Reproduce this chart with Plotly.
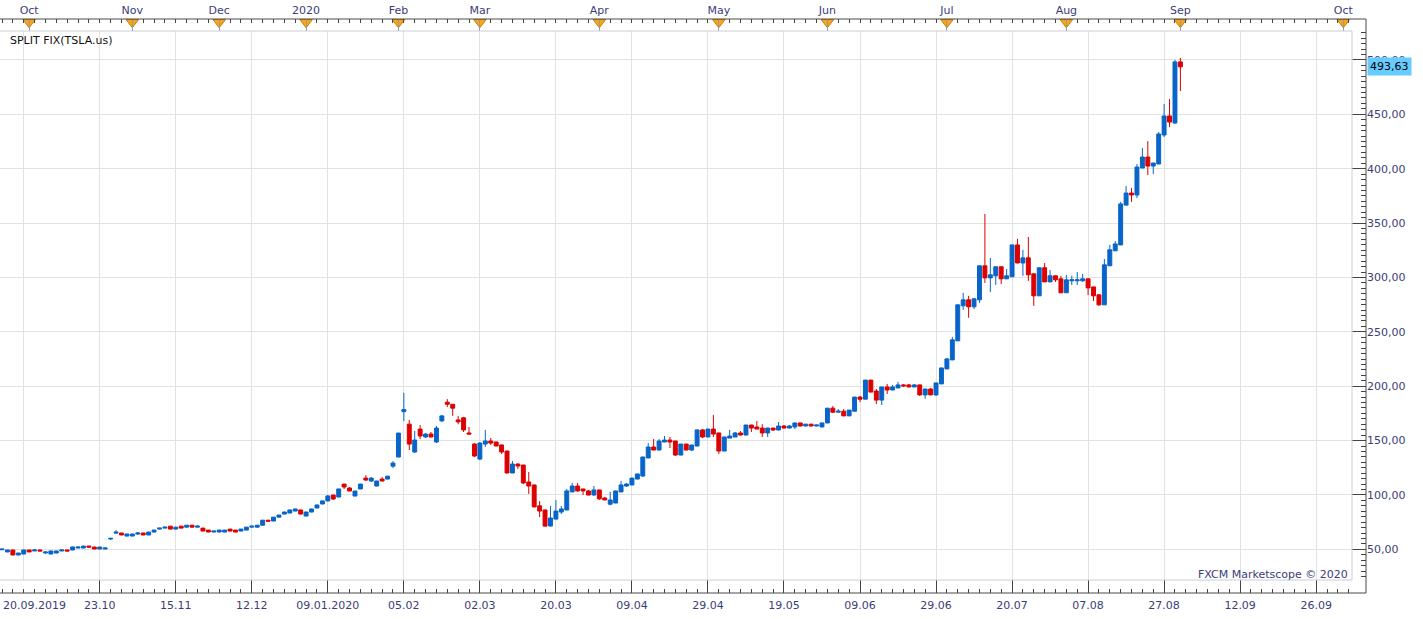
import plotly.graph_objects as go

# ---------------- data ----------------
# bar index 0..217 (FXCM trading-day axis, split-adjusted TSLA)
opens = [
    49.6, 47.6, 49.4, 44.8, 45.7, 49.4, 48.5, 49.4, 46.6, 45.7,
    46.6, 48.5, 49.4, 49.4, 51.2, 51.2, 53.0, 52.1, 50.3, 50.3,
    59.5, 64.9, 65.0, 62.2, 62.2, 64.1, 65.0, 63.2, 65.9, 68.6,
    69.5, 71.3, 68.6, 71.3, 70.4, 72.2, 70.4, 69.5, 67.7, 65.9,
    65.9, 65.9, 68.6, 67.7, 66.8, 67.7, 70.4, 70.4, 72.2, 76.8,
    76.0, 79.6, 82.4, 83.4, 85.2, 86.2, 80.6, 84.3, 88.0, 91.7,
    94.5, 99.9, 98.1, 110.0, 106.4, 99.0, 105.5, 115.5, 112.8, 108.2,
    114.6, 114.6, 126.5, 134.9, 176.6, 165.1, 139.5, 160.6, 153.3, 156.0,
    148.7, 168.1, 185.3, 183.4, 169.0, 170.9, 157.0, 146.8, 133.0, 146.8,
    149.6, 148.7, 146.0, 140.4, 120.2, 128.4, 127.5, 111.9, 109.2, 90.0,
    86.2, 71.4, 77.8, 84.3, 86.2, 102.8, 108.2, 105.5, 103.7, 100.0,
    104.6, 97.2, 91.5, 92.6, 102.8, 108.2, 109.2, 114.6, 117.4, 134.0,
    144.1, 141.3, 148.7, 150.5, 149.6, 136.7, 146.8, 141.3, 145.0, 159.8,
    153.3, 160.6, 157.0, 140.4, 152.3, 153.3, 157.0, 155.1, 164.3, 162.5,
    161.5, 157.0, 161.5, 159.7, 163.4, 161.5, 162.5, 166.2, 163.4, 165.1,
    163.4, 162.5, 166.2, 179.8, 176.1, 177.0, 172.7, 177.0, 190.0, 188.1,
    205.6, 195.6, 187.2, 199.3, 196.5, 198.4, 201.2, 201.2, 199.3, 201.2,
    192.0, 197.4, 192.0, 202.1, 215.9, 224.2, 241.7, 273.9, 279.4, 273.0,
    279.4, 310.7, 299.6, 301.5, 309.8, 298.7, 300.6, 329.9, 313.3, 318.0,
    303.3, 283.1, 308.9, 295.9, 301.5, 298.7, 285.9, 296.9, 296.9, 296.9,
    298.7, 291.3, 284.0, 274.8, 310.7, 324.5, 329.9, 366.5, 377.6, 375.8,
    400.6, 410.7, 402.4, 404.3, 431.0, 448.5, 442.0, 498.2,
]
closes = [
    50.2, 49.4, 44.8, 46.6, 49.4, 47.6, 49.4, 48.5, 47.6, 48.5,
    48.5, 49.4, 48.5, 52.2, 52.1, 53.0, 52.1, 50.3, 52.1, 51.2,
    60.1, 65.8, 63.2, 64.1, 64.1, 65.0, 63.2, 65.9, 67.7, 69.5,
    70.4, 68.6, 70.4, 69.5, 72.2, 70.4, 71.3, 66.8, 65.9, 66.8,
    67.7, 67.7, 66.8, 65.9, 68.6, 70.4, 71.3, 72.2, 76.8, 75.9,
    79.6, 81.5, 84.3, 86.2, 87.1, 82.4, 84.3, 87.1, 90.8, 94.5,
    99.1, 96.3, 105.5, 107.3, 103.6, 103.6, 110.0, 113.7, 115.5, 112.8,
    112.8, 117.3, 129.3, 156.9, 178.5, 146.8, 150.5, 154.2, 156.0, 153.3,
    161.5, 172.7, 183.4, 179.8, 167.2, 159.8, 156.0, 135.8, 147.7, 149.6,
    147.7, 145.0, 139.5, 120.2, 128.4, 126.6, 111.0, 108.2, 89.0, 85.2,
    71.4, 78.8, 85.2, 87.1, 103.7, 108.2, 103.7, 103.7, 99.9, 104.6,
    96.4, 95.4, 95.4, 103.7, 109.2, 110.0, 115.5, 119.3, 134.9, 144.1,
    141.3, 149.6, 150.5, 148.7, 136.7, 146.8, 141.3, 145.9, 159.8, 153.3,
    160.6, 156.0, 140.4, 153.3, 154.2, 157.0, 155.1, 164.3, 161.5, 160.6,
    157.0, 161.5, 159.7, 163.4, 161.5, 163.4, 166.2, 163.4, 165.1, 163.4,
    164.3, 166.2, 179.8, 176.1, 177.0, 172.7, 178.0, 190.0, 188.0, 205.6,
    194.6, 187.2, 199.3, 196.5, 199.3, 201.2, 200.3, 199.3, 201.2, 192.0,
    197.4, 192.0, 203.0, 216.8, 225.1, 242.6, 274.8, 279.4, 273.0, 280.3,
    310.7, 299.6, 302.4, 309.8, 298.7, 301.5, 329.9, 313.3, 318.0, 302.4,
    283.1, 308.9, 295.9, 301.5, 297.8, 285.9, 297.8, 297.8, 297.8, 298.7,
    290.4, 283.1, 274.8, 311.6, 325.4, 330.8, 367.6, 377.6, 375.8, 401.5,
    410.7, 402.4, 405.2, 431.9, 448.5, 442.9, 498.2, 493.63,
]
highs = [
    50.4, 49.6, 49.6, 46.8, 49.6, 49.6, 49.6, 49.6, 47.8, 48.7,
    48.7, 49.6, 49.6, 52.4, 52.3, 53.2, 53.2, 52.3, 52.3, 51.4,
    60.3, 67.6, 65.2, 64.3, 64.3, 65.8, 65.2, 66.1, 67.9, 69.7,
    70.6, 71.5, 70.6, 71.5, 72.4, 72.4, 72.2, 69.7, 67.9, 67.0,
    67.9, 67.9, 68.8, 67.9, 68.8, 70.6, 71.5, 72.4, 77.0, 77.0,
    79.8, 81.7, 84.5, 86.4, 87.3, 86.4, 84.5, 87.3, 91.0, 94.7,
    99.8, 100.1, 105.7, 110.2, 107.3, 103.8, 110.2, 118.2, 116.4, 113.0,
    116.4, 117.5, 131.1, 157.1, 193.9, 169.0, 158.8, 164.3, 157.0, 157.9,
    163.4, 173.6, 188.1, 183.6, 172.7, 171.8, 162.5, 147.7, 148.7, 159.8,
    152.4, 148.9, 146.2, 140.6, 131.2, 129.3, 127.7, 121.1, 109.4, 94.4,
    86.4, 89.8, 95.3, 89.8, 105.5, 111.1, 111.1, 105.7, 104.6, 108.2,
    104.8, 98.1, 102.8, 103.9, 112.9, 111.1, 115.7, 119.5, 135.1, 147.7,
    151.4, 151.4, 154.2, 153.3, 149.8, 147.0, 147.0, 146.1, 160.0, 160.6,
    160.8, 173.6, 157.2, 153.5, 159.8, 157.9, 158.8, 164.5, 164.5, 168.0,
    165.1, 161.7, 161.7, 167.1, 164.3, 164.3, 166.4, 166.4, 165.3, 165.3,
    164.5, 166.4, 180.0, 181.8, 179.0, 179.0, 178.2, 190.2, 191.0, 205.8,
    205.8, 197.4, 199.5, 202.1, 201.2, 204.0, 202.1, 202.1, 202.1, 201.4,
    197.6, 198.4, 203.2, 217.0, 226.0, 245.4, 275.0, 285.9, 283.1, 281.2,
    310.9, 358.4, 317.9, 310.0, 310.0, 307.7, 330.1, 335.4, 325.4, 337.2,
    303.5, 309.1, 313.3, 306.8, 301.7, 301.5, 302.4, 301.5, 305.0, 303.3,
    298.9, 291.5, 284.2, 317.0, 329.9, 333.5, 369.5, 384.0, 382.3, 404.3,
    419.0, 425.4, 405.4, 433.8, 459.5, 464.0, 500.0, 501.8,
]
lows = [
    49.4, 47.4, 44.6, 44.6, 45.5, 47.4, 48.3, 48.3, 46.0, 45.5,
    46.4, 48.3, 48.3, 49.2, 51.0, 51.0, 51.9, 50.1, 50.1, 50.1,
    58.5, 64.7, 63.0, 62.0, 62.0, 63.2, 63.0, 63.0, 65.7, 68.4,
    69.3, 68.4, 68.4, 69.3, 70.2, 70.2, 70.2, 66.6, 65.7, 65.7,
    65.7, 65.7, 66.6, 65.7, 66.6, 67.5, 70.2, 70.2, 72.0, 75.7,
    75.8, 79.4, 82.2, 83.2, 85.0, 82.2, 80.4, 84.1, 87.8, 91.5,
    94.3, 95.4, 97.9, 105.5, 103.4, 98.8, 105.3, 112.8, 111.9, 108.0,
    112.6, 114.4, 124.7, 134.7, 168.0, 141.3, 138.7, 151.4, 152.4, 153.1,
    147.8, 167.2, 180.8, 172.7, 165.0, 157.9, 155.8, 134.9, 132.0, 144.1,
    146.0, 144.8, 137.7, 120.0, 120.0, 123.8, 110.0, 100.9, 88.8, 79.7,
    70.5, 71.2, 77.6, 82.5, 86.0, 102.6, 102.8, 99.9, 99.7, 99.0,
    95.4, 95.2, 90.5, 92.4, 102.6, 107.3, 109.0, 114.4, 116.5, 133.8,
    141.1, 141.1, 148.5, 143.2, 135.8, 136.5, 141.1, 140.4, 144.8, 152.4,
    153.1, 153.3, 137.7, 140.2, 152.1, 153.1, 154.9, 154.9, 157.9, 160.4,
    153.3, 153.3, 158.8, 159.5, 161.3, 161.3, 160.6, 163.2, 163.2, 163.2,
    163.2, 162.3, 166.0, 175.3, 175.9, 172.5, 172.5, 176.8, 185.3, 187.9,
    194.4, 183.6, 182.7, 192.8, 196.3, 198.2, 199.3, 199.1, 199.1, 191.0,
    188.3, 191.8, 191.0, 201.9, 215.7, 224.0, 241.5, 270.2, 262.9, 271.0,
    276.6, 294.9, 286.6, 293.1, 294.0, 298.5, 300.4, 313.1, 301.5, 296.8,
    273.9, 282.9, 295.7, 295.7, 295.9, 285.7, 285.7, 293.1, 293.1, 295.9,
    283.8, 278.3, 273.9, 274.6, 310.5, 324.3, 329.7, 366.3, 369.5, 373.0,
    400.4, 394.2, 395.0, 404.1, 429.1, 438.2, 441.0, 471.4,
]
bar_index = list(range(len(opens)))

# bottom axis date labels and the bar positions they sit on
date_labels = ["20.09.2019", "23.10", "15.11", "12.12", "09.01.2020", "05.02",
               "02.03", "20.03", "09.04", "29.04", "19.05", "09.06", "29.06",
               "20.07", "07.08", "27.08", "12.09", "26.09"]
date_label_bars = [4, 18, 32, 46, 60, 74, 88, 102, 116, 130, 144, 158, 172,
                   186, 200, 214, 228, 242]

# top axis month markers
month_labels = ["Oct", "Nov", "Dec", "2020", "Feb", "Mar", "Apr", "May", "Jun",
                "Jul", "Aug", "Sep", "Oct"]
month_bars = [5, 24, 40, 56, 73, 88, 110, 132, 152, 174, 196, 217, 247]

price_ticks = [50, 100, 150, 200, 250, 300, 350, 400, 450, 500]
price_labels = ["50,00", "100,00", "150,00", "200,00", "250,00", "300,00",
                "350,00", "400,00", "450,00", "500,00"]
last_price = 493.63
last_price_label = "493,63"

# ---------------- layout geometry (pixels) ----------------
W, H = 1423, 619
PLOT_R, PLOT_T, PLOT_B = 1352, 31, 580
OUTER_R, OUTER_T, OUTER_B = 1366, 19, 593


def fx(p):
    return p / W


def fy(p):
    return (H - p) / H


BLUE = "#0864C8"
RED = "#DC0000"
GRID = "#E2E2E2"
TXT = "#3C3C78"
FONT = "DejaVu Sans"

# the first date label is clamped to the window's left edge (drawn as an annotation)
bottom_ticktext = [""] + date_labels[1:]

fig = go.Figure()
fig.add_trace(go.Candlestick(
    x=bar_index, open=opens, high=highs, low=lows, close=closes,
    increasing=dict(line=dict(color=BLUE, width=1), fillcolor=BLUE),
    decreasing=dict(line=dict(color=RED, width=1), fillcolor=RED),
    whiskerwidth=0, showlegend=False, hoverinfo="skip",
    xaxis="x", yaxis="y",
))
fig.add_trace(go.Scatter(
    x=month_bars, y=[0.73] * len(month_bars), mode="markers",
    marker=dict(symbol="triangle-down", size=11, color="#F8A51C",
                line=dict(color="#C98000", width=1)),
    xaxis="x2", yaxis="y3", cliponaxis=False, showlegend=False, hoverinfo="skip",
))

minor_x = [v for v in range(0, 250, 2)]
minor_y = [v for v in range(25, 530, 5) if v % 50 != 0]

fig.update_layout(
    width=W, height=H,
    margin=dict(l=0, r=0, t=0, b=0, autoexpand=False),
    paper_bgcolor="white", plot_bgcolor="white",
    boxgap=0.15, boxgroupgap=0.15,
    showlegend=False,
    font=dict(family=FONT, size=11, color=TXT),
    xaxis=dict(
        domain=[0, fx(PLOT_R)], range=[-0.368, 248.6], autorange=False,
        anchor="free", position=fy(OUTER_B), automargin=False,
        tickmode="array", tickvals=date_label_bars, ticktext=bottom_ticktext,
        ticks="inside", ticklen=13, tickcolor="#444", tickwidth=1,
        tickfont=dict(family=FONT, size=11, color=TXT),
        ticklabelstandoff=4, ticklabeloverflow="allow",
        showgrid=True, gridcolor=GRID, gridwidth=1,
        zeroline=False, showline=False,
        rangeslider=dict(visible=False),
        minor=dict(tickmode="array", tickvals=minor_x, ticks="inside", ticklen=4,
                   tickcolor="#444", showgrid=False),
    ),
    xaxis2=dict(
        domain=[0, fx(PLOT_R)], matches="x", anchor="y3", side="top",
        automargin=False,
        tickmode="array", tickvals=month_bars, ticktext=month_labels,
        ticks="inside", ticklen=12, tickcolor="#999", tickwidth=1,
        tickfont=dict(family=FONT, size=11, color=TXT),
        ticklabelstandoff=2, ticklabeloverflow="allow",
        showgrid=False, zeroline=False, showline=False,
        minor=dict(tickmode="array", tickvals=minor_x, ticks="inside", ticklen=4,
                   tickcolor="#444", showgrid=False),
    ),
    yaxis=dict(
        domain=[fy(PLOT_B), fy(PLOT_T)], range=[21.8, 526.6], autorange=False,
        side="right", anchor="free", position=fx(OUTER_R), automargin=False,
        tickmode="array", tickvals=price_ticks, ticktext=price_labels,
        ticks="inside", ticklen=14, tickcolor="#444", tickwidth=1,
        tickfont=dict(family=FONT, size=11, color=TXT),
        showgrid=True, gridcolor=GRID, gridwidth=1,
        zeroline=False, showline=False,
        minor=dict(tickmode="array", tickvals=minor_y, ticks="inside", ticklen=5,
                   tickcolor="#444", showgrid=False),
    ),
    yaxis3=dict(
        domain=[fy(PLOT_T), fy(OUTER_T)], range=[0, 1], anchor="x2",
        automargin=False,
        showticklabels=False, showgrid=False, zeroline=False, showline=False, ticks="",
    ),
)

frame_dark = "#4A4A4A"
frame_light = "#C9CED8"
shapes = [
    # outer dark frame (top, right, bottom)
    dict(type="line", xref="paper", yref="paper", x0=0, x1=fx(OUTER_R),
         y0=fy(OUTER_T), y1=fy(OUTER_T), line=dict(color=frame_dark, width=1)),
    dict(type="line", xref="paper", yref="paper", x0=fx(OUTER_R), x1=fx(OUTER_R),
         y0=fy(OUTER_T), y1=fy(OUTER_B), line=dict(color=frame_dark, width=1)),
    dict(type="line", xref="paper", yref="paper", x0=0, x1=fx(OUTER_R),
         y0=fy(OUTER_B), y1=fy(OUTER_B), line=dict(color=frame_dark, width=1)),
    # inner light plot frame
    dict(type="line", xref="paper", yref="paper", x0=0, x1=fx(PLOT_R),
         y0=fy(PLOT_T), y1=fy(PLOT_T), line=dict(color=frame_light, width=1)),
    dict(type="line", xref="paper", yref="paper", x0=fx(PLOT_R), x1=fx(PLOT_R),
         y0=fy(PLOT_T), y1=fy(PLOT_B), line=dict(color=frame_light, width=1)),
    dict(type="line", xref="paper", yref="paper", x0=0, x1=fx(PLOT_R),
         y0=fy(PLOT_B), y1=fy(PLOT_B), line=dict(color=frame_light, width=1)),
]
fig.update_layout(shapes=shapes)

fig.add_annotation(text=date_labels[0], xref="paper", yref="paper",
                   x=fx(1), y=fy(605), xanchor="left", yanchor="middle",
                   showarrow=False, font=dict(family=FONT, size=11, color=TXT))
fig.add_annotation(text="SPLIT FIX(TSLA.us)", xref="paper", yref="paper",
                   x=fx(8), y=fy(40), xanchor="left", yanchor="middle",
                   showarrow=False, font=dict(family=FONT, size=11, color="#111111"))
fig.add_annotation(text="FXCM Marketscope © 2020", xref="paper", yref="paper",
                   x=fx(1350), y=fy(574), xanchor="right", yanchor="middle",
                   showarrow=False, font=dict(family=FONT, size=11, color=TXT))
fig.add_annotation(text=last_price_label, xref="paper", yref="y",
                   x=fx(OUTER_R + 1), y=last_price, xanchor="left", yanchor="middle",
                   showarrow=False, bgcolor="#66CCFF", borderpad=2,
                   font=dict(family=FONT, size=11, color="#000000"))

fig.write_html("out.html")
